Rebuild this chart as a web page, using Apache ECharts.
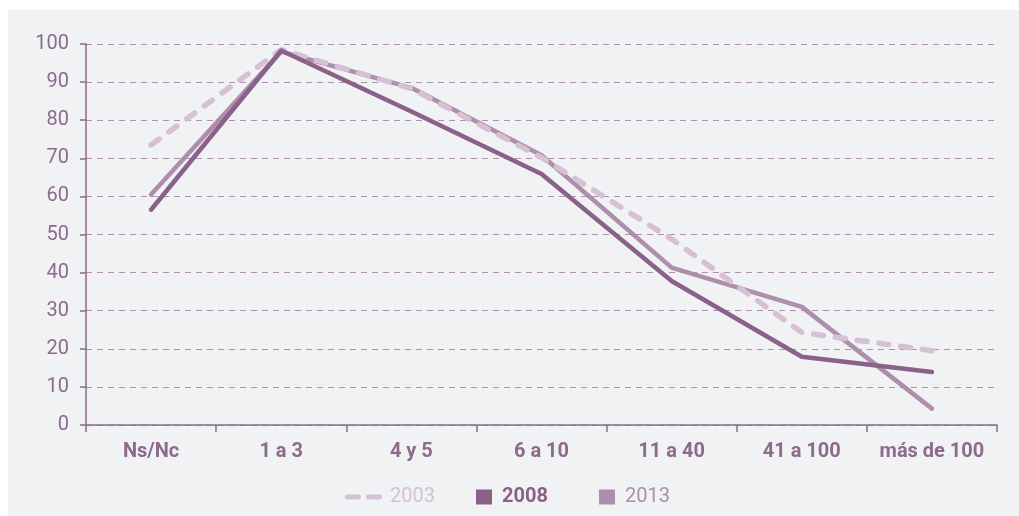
<!DOCTYPE html>
<html><head><meta charset="utf-8">
<script src="https://cdn.jsdelivr.net/npm/echarts@6/dist/echarts.min.js"></script>
<style>
html,body{margin:0;padding:0;background:#ffffff;}
#c{position:absolute;left:8px;top:10px;width:1011px;height:506px;background:#f1f2f4;}
</style></head><body>
<div id="c"></div>
<script>
var categories = ['Ns/Nc','1 a 3','4 y 5','6 a 10','11 a 40','41 a 100','más de 100'];
var s2003 = [73.5, 98.5, 88.3, 70.2, 48.8, 24.3, 19.5];
var s2008 = [56.5, 98.3, 82.3, 65.9, 37.8, 17.9, 13.9];
var s2013 = [60.5, 98.0, 88.5, 70.8, 41.3, 31.0, 4.3];
var yTicks = [0,10,20,30,40,50,60,70,80,90,100];

var cDash = '#d5c0d4', cDark = '#8a6189', cMid = '#ad8fac', cText = '#8c6b8b';
var dashIcon = 'path://M2.5,0H13.5A2.5,2.5 0 0 1 13.5,5H2.5A2.5,2.5 0 0 1 2.5,0Z M23.5,0H34.5A2.5,2.5 0 0 1 34.5,5H23.5A2.5,2.5 0 0 1 23.5,0Z';
var chart = echarts.init(document.getElementById('c'));
var font = 'Roboto, sans-serif';
chart.setOption({
  animation:false,
  grid:{left:78,right:22,top:34,bottom:91},
  legend:[
    {data:[{name:'2003',icon:dashIcon,itemStyle:{color:cDash,borderWidth:0}}],left:337,top:477,padding:0,itemWidth:37,itemHeight:5,
     textStyle:{color:cDash,fontSize:20,fontFamily:font,padding:[0,0,0,3]},selectedMode:false},
    {data:[{name:'2008',icon:'rect',itemStyle:{color:cDark,borderWidth:0}}],left:468,top:477,padding:0,itemWidth:16,itemHeight:15,
     textStyle:{color:cDark,fontSize:20,fontWeight:'bold',fontFamily:font,padding:[0,0,0,5]},selectedMode:false},
    {data:[{name:'2013',icon:'rect',itemStyle:{color:cMid,borderWidth:0}}],left:591,top:477,padding:0,itemWidth:16,itemHeight:15,
     textStyle:{color:cMid,fontSize:20,fontFamily:font,padding:[0,0,0,5]},selectedMode:false}
  ],
  xAxis:{type:'category',data:categories,boundaryGap:true,
    axisLine:{lineStyle:{color:cText,width:1.5}},
    axisTick:{show:true,length:7,interval:0,lineStyle:{color:cText,width:1.5}},
    axisLabel:{color:cText,fontSize:20,fontWeight:'bold',fontFamily:font,margin:17,interval:0,hideOverlap:false}},
  yAxis:{type:'value',min:0,max:100,interval:10,
    axisLine:{show:true,lineStyle:{color:cText,width:1.5}},
    axisTick:{show:true,length:6,lineStyle:{color:cText,width:1.5}},
    axisLabel:{color:cText,fontSize:20,fontFamily:font,margin:17,
      formatter:function(v){return yTicks.indexOf(v)>=0?String(v):'';}},
    splitLine:{show:true,lineStyle:{color:'#ae8fad',type:[6,5],width:1}}},
  series:[
    {name:'2013',type:'line',data:s2013,symbol:'none',z:2,
     lineStyle:{color:cMid,width:4.5,cap:'round',join:'round'},itemStyle:{color:cMid}},
    {name:'2003',type:'line',data:s2003,symbol:'none',z:3,
     lineStyle:{color:cDash,width:5.5,type:[10,12],cap:'round',join:'round'},itemStyle:{color:cDash}},
    {name:'2008',type:'line',data:s2008,symbol:'none',z:4,
     lineStyle:{color:cDark,width:4.5,cap:'round',join:'round'},itemStyle:{color:cDark}}
  ]
});
</script></body></html>
